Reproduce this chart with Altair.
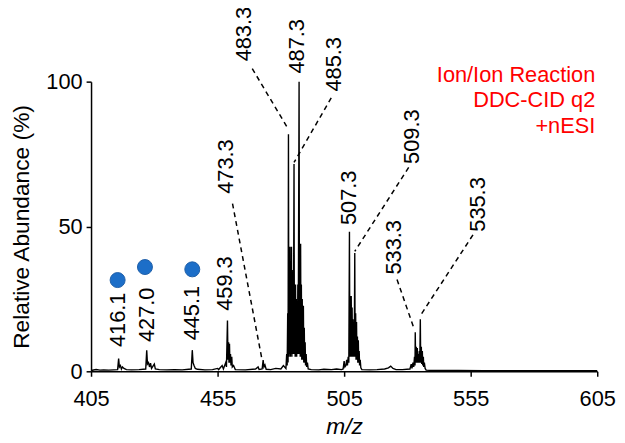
import altair as alt
import pandas as pd

# ---- spectrum trace (m/z, relative abundance %) ----
spec_mz = [405, 407, 408.5, 410, 412, 414, 415.5, 415.9, 416.2, 416.6, 417.0, 417.4, 418, 419, 421, 424,
           426.6, 427.0, 427.3, 427.7, 428.1, 428.5, 428.9, 430.0, 430.4, 432, 435, 438, 441,
           444.6, 445.0, 445.3, 445.7, 446.2, 447, 450, 453, 455, 455.4, 456.8, 457.3,
           458.2, 458.5, 458.9, 459.1, 459.35, 459.5, 459.7, 459.85, 460.1, 460.3, 460.6, 460.8,
           461.3, 462, 466, 470,
           471, 471.4, 472.6, 473.0, 473.3, 473.7, 474.2, 476, 478, 480, 481,
           482.0, 482.3, 482.5, 482.7, 482.85, 483.0, 483.15, 483.3, 483.45, 483.6, 483.75, 483.9,
           484.05, 484.2, 484.35, 484.5, 484.65, 484.8, 484.95, 485.2, 485.35, 485.5, 485.65, 485.8,
           485.95, 486.1, 486.25, 486.4, 486.55, 486.7, 486.85, 487.2, 487.35, 487.5, 487.65, 487.8,
           487.95, 488.1, 488.25, 488.45, 488.6, 488.9, 489.05, 489.25, 489.4, 489.6, 489.75, 490.0,
           490.2, 490.5, 490.8, 492, 495, 497, 500, 502, 504,
           504.6, 505.0, 505.3, 505.7, 506.0, 506.3, 506.6, 506.85, 507.1, 507.25, 507.45, 507.6,
           507.8, 507.95, 508.15, 508.3, 508.5, 508.65, 508.85, 509.0, 509.2, 509.35, 509.55, 509.7,
           509.9, 510.05, 510.25, 510.4, 510.6, 510.75, 510.95, 511.1, 511.35, 511.6, 512.0,
           515, 518, 521, 522.5, 523.4, 524.3, 525.5, 528,
           531.0, 531.5, 531.8, 532.2, 532.5, 532.8, 533.0, 533.1, 533.25, 533.5, 533.65, 533.9,
           534.05, 534.3, 534.45, 534.7, 534.9, 535.1, 535.25, 535.5, 535.65, 535.9, 536.05, 536.3,
           536.45, 536.7, 537.0, 537.4, 540, 550, 560, 580, 605]
spec_int = [0.3, 0.6, 0.4, 0.5, 0.4, 0.5, 0.6, 4.4, 1.5, 2.0, 0.8, 1.5, 1.0, 0.6, 0.5, 0.6,
            0.8, 7.3, 2.5, 3.0, 1.5, 2.8, 1.0, 2.5, 0.8, 0.6, 0.5, 0.6, 0.5,
            0.8, 7.3, 3.0, 2.0, 1.0, 0.7, 0.5, 0.6, 1.0, 0.6, 2.0, 0.8,
            3.0, 1.5, 17.5, 4.0, 10.0, 3.0, 9.5, 3.0, 6.0, 2.0, 5.0, 1.5,
            2.0, 0.6, 0.5, 0.8,
            1.5, 0.6, 0.8, 3.9, 1.5, 2.2, 0.7, 0.6, 1.0, 0.8, 2.0,
            1.0, 6.0, 2.0, 20.0, 3.0, 81.8, 5.0, 40.0, 6.0, 43.0, 5.0, 38.0,
            6.0, 43.0, 5.0, 35.0, 6.0, 30.0, 6.0, 71.6, 6.0, 28.0, 5.0, 30.0,
            5.0, 25.0, 5.0, 22.0, 6.0, 30.0, 6.0, 100.0, 6.0, 40.0, 5.0, 44.0,
            5.0, 30.0, 4.0, 25.0, 4.0, 22.6, 3.0, 15.0, 3.0, 10.0, 2.0, 6.0,
            1.5, 3.0, 0.8, 0.6, 0.5, 0.7, 0.6, 0.8, 0.6,
            0.8, 3.5, 1.5, 2.0, 4.0, 2.0, 5.0, 3.0, 48.2, 5.0, 26.0, 5.0,
            26.0, 5.0, 22.0, 5.0, 18.0, 5.0, 15.0, 5.0, 40.8, 5.0, 20.0, 4.0,
            17.0, 4.0, 12.0, 3.0, 10.7, 3.0, 7.0, 2.0, 4.0, 1.2, 0.6,
            0.5, 0.6, 0.8, 1.2, 1.8, 1.0, 0.6, 0.6,
            0.8, 2.5, 1.0, 3.0, 1.5, 5.0, 2.0, 13.5, 3.0, 8.5, 3.0, 8.0,
            3.0, 6.0, 3.0, 7.0, 3.0, 18.0, 3.0, 8.5, 2.5, 7.0, 2.0, 5.0,
            1.5, 3.0, 1.0, 0.4, 0.3, 0.3, 0.2, 0.2, 0.2]

# ---- peak labels (text, x position, bottom of text in %) ----
lab_text = ["416.1", "427.0", "445.1", "459.3", "473.3", "483.3", "487.3",
            "485.3", "507.3", "509.3", "533.3", "535.3"]
lab_x = [415.7, 427.0, 445.0, 458.0, 458.5, 465.4, 486.25, 501.2, 507.1, 531.8, 524.6, 557.9]
lab_y = [8.4, 10.1, 10.7, 20.9, 61.3, 107.0, 102.8, 96.6, 50.5, 71.6, 33.4, 48.2]

# ---- dashed leader lines ----
lead_x1 = [460.9, 468.7, 499.9, 530.5, 525.9, 555.9]
lead_y1 = [57.9, 104.5, 94.4, 70.4, 31.7, 47.1]
lead_x2 = [472.6, 483.0, 485.2, 509.2, 532.4, 535.1]
lead_y2 = [3.8, 83.5, 72.1, 41.4, 15.3, 19.2]

# ---- blue markers ----
dot_x = [415.5, 426.3, 445.0]
dot_y = [31.5, 36.0, 35.2]

# ---- annotation ----
note_lines = ["Ion/Ion Reaction", "DDC-CID q2", "+nESI"]

FONT = "Liberation Sans"

spec = pd.DataFrame({"mz": spec_mz, "ab": spec_int})
labs = pd.DataFrame({"t": lab_text, "x": lab_x, "y": lab_y})
leads = pd.DataFrame({"x": lead_x1, "y": lead_y1, "x2": lead_x2, "y2": lead_y2})
dots = pd.DataFrame({"x": dot_x, "y": dot_y})
note = pd.DataFrame({"t": note_lines, "i": [0, 1, 2]})

xs = alt.Scale(domain=[405, 605], nice=False, zero=False)
ys = alt.Scale(domain=[0, 100], nice=False)

line = alt.Chart(spec).mark_line(color="black", strokeWidth=1.4, interpolate="linear").encode(
    x=alt.X("mz:Q", scale=xs, axis=alt.Axis(
        values=[405, 455, 505, 555, 605], title="m/z", titleFontStyle="italic",
        titleFont=FONT, titleFontSize=23, titleFontWeight="normal", titleColor="black",
        labelFont=FONT, labelFontSize=22, labelColor="black", labelPadding=13,
        tickSize=5, tickColor="black", tickWidth=1.5, domainColor="black", domainWidth=1.5,
        grid=False, titlePadding=6, labelFlush=False)),
    y=alt.Y("ab:Q", scale=ys, axis=alt.Axis(
        values=[0, 50, 100], title="Relative Abundance (%)",
        titleFont=FONT, titleFontSize=23, titleFontWeight="normal", titleColor="black",
        labelFont=FONT, labelFontSize=22, labelColor="black", labelPadding=4,
        tickSize=5, tickColor="black", tickWidth=1.5, domainColor="black", domainWidth=1.5,
        grid=False, titlePadding=13)),
)

rules = alt.Chart(leads).mark_rule(color="black", strokeWidth=1.5, strokeDash=[5, 4]).encode(
    x=alt.X("x:Q", scale=xs), y=alt.Y("y:Q", scale=ys),
    x2="x2:Q", y2="y2:Q")

texts = alt.Chart(labs).mark_text(angle=270, align="left", baseline="middle",
                                  font=FONT, fontSize=22, color="black").encode(
    x=alt.X("x:Q", scale=xs), y=alt.Y("y:Q", scale=ys), text="t:N")

pts = alt.Chart(dots).mark_point(shape="circle", filled=True, size=230, color="#1c6ec8",
                                 opacity=1, stroke="#1f5fa8", strokeWidth=1).encode(
    x=alt.X("x:Q", scale=xs), y=alt.Y("y:Q", scale=ys))

notes = alt.Chart(note).transform_calculate(py="datum.i * 26").mark_text(
    align="right", baseline="alphabetic", font=FONT, fontSize=22, color="#ff0000").encode(
    x=alt.value(510), y=alt.Y("py:Q", scale=None), text="t:N")

chart = alt.layer(line, rules, texts, pts, notes).properties(
    width=512, height=293,
    autosize=alt.AutoSizeParams(type="none"),
    padding={"left": 84, "top": 72, "right": 20, "bottom": 68},
).configure_view(stroke=None)

chart.save("out.html", embed_options={"renderer": "svg", "actions": False})
